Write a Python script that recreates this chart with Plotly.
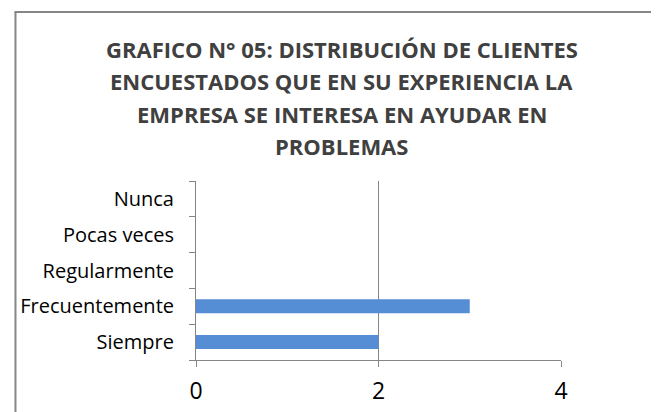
import plotly.graph_objects as go

categorias = ["Siempre", "Frecuentemente", "Regularmente", "Pocas veces", "Nunca"]
clientes = [2, 3, 0, 0, 0]
x_ticks = [0, 2, 4]

titulo = [
    "GRAFICO N° 05: DISTRIBUCIÓN DE CLIENTES",
    "ENCUESTADOS QUE EN SU EXPERIENCIA LA",
    "EMPRESA SE INTERESA EN AYUDAR EN",
    "PROBLEMAS",
]

# la página añade 8px de margen al body, se compensa aquí
OFF = 8
W, H = 659, 412
L, T = 193 - OFF, 181 - OFF
pw, ph = 368, 179
R, B = W - L - pw, H - T - ph


def px_x(x):
    return (x - OFF - L) / pw


def px_y(y):
    return (T + ph - (y - OFF)) / ph


fig = go.Figure()
fig.add_trace(go.Bar(
    x=clientes, y=categorias, orientation="h",
    marker=dict(color="#558ED5", line=dict(width=0)),
))

gris = "#868686"
anotaciones = []
for i, linea in enumerate(titulo):
    anotaciones.append(dict(
        text=linea, xref="paper", yref="paper",
        x=px_x(340), y=px_y(49.5 + 32 * i),
        xanchor="center", yanchor="middle", showarrow=False,
        font=dict(size=22, color="#404040", family="Open Sans, sans-serif", weight="bold"),
    ))

fig.update_layout(
    width=W, height=H,
    margin=dict(l=L, r=R, t=T, b=B),
    paper_bgcolor="white", plot_bgcolor="white",
    showlegend=False, bargap=0.61,
    font=dict(family="Open Sans, sans-serif", color="#000000"),
    annotations=anotaciones,
    shapes=[
        # marco del gráfico (solo visible arriba e izquierda)
        dict(type="line", xref="paper", yref="paper",
             x0=px_x(10), x1=px_x(W + OFF), y0=px_y(12), y1=px_y(12),
             line=dict(color=gris, width=2)),
        dict(type="line", xref="paper", yref="paper",
             x0=px_x(11), x1=px_x(11), y0=px_y(12), y1=px_y(H + OFF),
             line=dict(color=gris, width=2)),
    ],
)

fig.update_xaxes(
    range=[0, 4], tickvals=x_ticks, showgrid=True, gridcolor=gris, gridwidth=1,
    zeroline=False, showline=True, linecolor=gris, linewidth=1,
    ticks="outside", ticklen=6, tickcolor=gris,
    tickfont=dict(size=23, color="#000000"), ticklabelstandoff=4,
)
fig.update_yaxes(
    categoryorder="array", categoryarray=categorias,
    showgrid=False, showline=True, linecolor=gris, linewidth=1,
    ticks="outside", tickson="boundaries", ticklen=6, tickcolor=gris,
    tickfont=dict(size=20, color="#000000"), ticklabelstandoff=17,
)

fig.write_html("out.html")
